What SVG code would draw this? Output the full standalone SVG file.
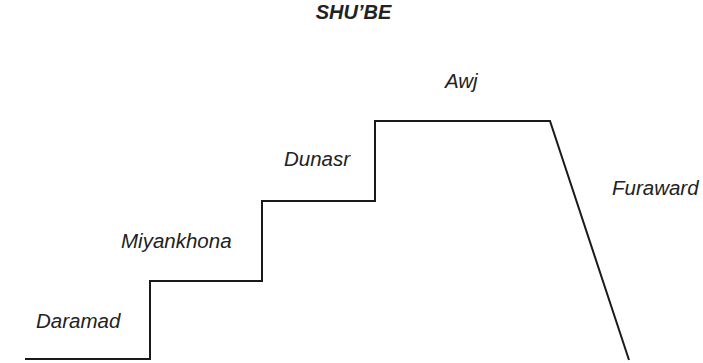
<svg xmlns="http://www.w3.org/2000/svg" width="703" height="363" viewBox="0 0 703 363">
<style>
.lbl{font-family:"Liberation Sans",Arial,sans-serif;font-style:italic;font-size:20.5px;fill:#222}
.title{font-family:"Liberation Sans",Arial,sans-serif;font-style:italic;font-weight:bold;font-size:20px;fill:#222}
.ln{fill:none;stroke:#1a1a1a;stroke-width:2}
</style>
<rect width="703" height="363" fill="#fff"/>
<g id="title"><text class="title" x="353.5" y="19" text-anchor="middle">SHU’BE</text></g>
<g id="connectors">
<path class="ln" d="M25,359 H150 V281 H262 V201 H375 V121 H550 L629,360"/>
</g>
<g id="daramad"><text class="lbl" x="36" y="328">Daramad</text></g>
<g id="miyankhona"><text class="lbl" x="121" y="248">Miyankhona</text></g>
<g id="dunasr"><text class="lbl" x="284" y="166">Dunasr</text></g>
<g id="awj"><text class="lbl" x="445" y="88">Awj</text></g>
<g id="furaward"><text class="lbl" x="612" y="195">Furaward</text></g>
</svg>
